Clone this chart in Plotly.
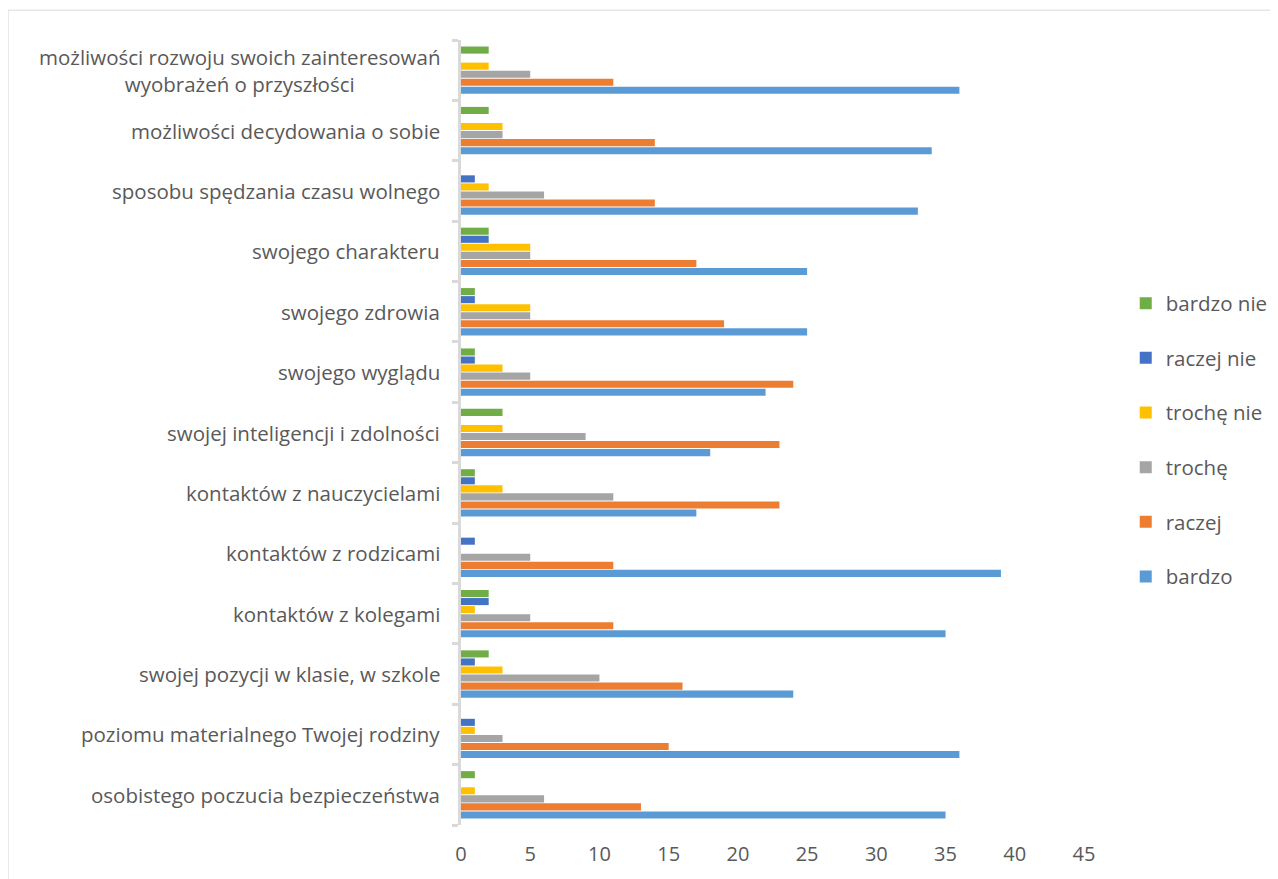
import plotly.graph_objects as go

categories = [
    "osobistego poczucia bezpieczeństwa",
    "poziomu materialnego Twojej rodziny",
    "swojej pozycji w klasie, w szkole",
    "kontaktów z kolegami",
    "kontaktów z rodzicami",
    "kontaktów z nauczycielami",
    "swojej inteligencji i zdolności",
    "swojego wyglądu",
    "swojego zdrowia",
    "swojego charakteru",
    "sposobu spędzania czasu wolnego",
    "możliwości decydowania o sobie",
    "możliwości rozwoju swoich zainteresowań<br>wyobrażeń o przyszłości",
]

bardzo     = [35, 36, 24, 35, 39, 17, 18, 22, 25, 25, 33, 34, 36]
raczej     = [13, 15, 16, 11, 11, 23, 23, 24, 19, 17, 14, 14, 11]
troche     = [6, 3, 10, 5, 5, 11, 9, 5, 5, 5, 6, 3, 5]
troche_nie = [1, 1, 3, 1, 0, 3, 3, 3, 5, 5, 2, 3, 2]
raczej_nie = [0, 1, 1, 2, 1, 1, 0, 1, 1, 2, 1, 0, 0]
bardzo_nie = [1, 0, 2, 2, 0, 1, 3, 1, 1, 2, 0, 2, 2]

series_names = ["bardzo", "raczej", "trochę", "trochę nie", "raczej nie", "bardzo nie"]
series_values = [bardzo, raczej, troche, troche_nie, raczej_nie, bardzo_nie]
series_colors = ["#5B9BD5", "#ED7D31", "#A5A5A5", "#FFC000", "#4472C4", "#70AD47"]

x_ticks = [0, 5, 10, 15, 20, 25, 30, 35, 40, 45]

FONT = "Open Sans"
TXT = "#595959"
FS = 20.5

fig = go.Figure()
n = len(series_names)
for i, (name, vals, col) in enumerate(zip(series_names, series_values, series_colors)):
    fig.add_trace(go.Bar(
        y=categories, x=vals, name=name, orientation="h",
        marker=dict(color=col, line=dict(width=0)),
        legendgroup=name, legendrank=1000 + (n - i),
    ))

for c in categories:
    fig.add_annotation(
        x=0, xref="paper", y=c, yref="y", text=c, showarrow=False,
        xanchor="right", yanchor="middle", xshift=-19, align="center",
        font=dict(family=FONT, size=FS, color=TXT),
    )

fig.add_shape(type="rect", xref="paper", yref="paper",
              x0=-0.727, x1=1.4, y0=-0.2, y1=1.038,
              line=dict(color="#d9d9d9", width=1), fillcolor="rgba(0,0,0,0)", layer="below")

fig.update_layout(
    width=1270, height=871,
    margin=dict(l=453, r=194, t=32, b=54, autoexpand=False),
    paper_bgcolor="white", plot_bgcolor="white",
    barmode="group", bargap=0.2, bargroupgap=0.12,
    font=dict(family=FONT, size=FS, color=TXT),
    showlegend=True,
    legend=dict(
        x=1.067, y=0.69, xanchor="left", yanchor="top",
        traceorder="grouped", tracegroupgap=25,
        font=dict(family=FONT, size=FS, color=TXT),
        itemwidth=30,
    ),
    xaxis=dict(
        range=[0, 45], tickvals=x_ticks, showgrid=False, zeroline=False,
        showline=False, ticks="", ticklabelstandoff=15,
        tickfont=dict(family=FONT, size=20, color=TXT), fixedrange=True,
    ),
    yaxis=dict(
        type="category", showticklabels=False, showgrid=False, zeroline=False,
        showline=True, linecolor="#d9d9d9", linewidth=3,
        ticks="outside", tickson="boundaries", ticklen=6, tickwidth=3,
        tickcolor="#d9d9d9", range=[-0.5, len(categories) - 0.5],
    ),
)

fig.write_html("out.html")
